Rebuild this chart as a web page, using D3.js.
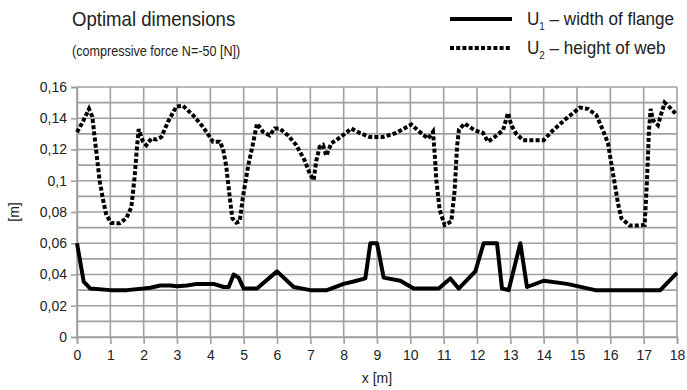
<!DOCTYPE html>
<html>
<head>
<meta charset="utf-8">
<script src="https://cdn.jsdelivr.net/npm/d3@7"></script>
<style>
  body { margin: 0; background: #fff; }
  text { font-family: "Liberation Sans", Arial, sans-serif; fill: #222; }
</style>
</head>
<body>
<div id="chart"></div>
<script>
// x positions [m] and values [m] for each series
const u1X = [0, 0.2, 0.4, 1.0, 1.5, 2.0, 2.2, 2.5, 2.8, 3.0, 3.3, 3.6, 4.1, 4.4, 4.55, 4.7, 4.85, 5.0, 5.4, 6.0,
  6.5, 7.0, 7.5, 8.0, 8.3, 8.65, 8.8, 9.0, 9.2, 9.7, 10.1, 10.85, 11.2, 11.45, 11.95, 12.2, 12.6, 12.75, 12.95,
  13.3, 13.5, 14.0, 14.7, 15.55, 17.5, 18.0];
const u1Y = [0.060, 0.0355, 0.031, 0.030, 0.030, 0.031, 0.0315, 0.033, 0.033, 0.0325, 0.033, 0.034, 0.034, 0.032,
  0.032, 0.040, 0.038, 0.031, 0.031, 0.042, 0.032, 0.030, 0.030, 0.034, 0.0355, 0.0375, 0.060, 0.060, 0.038,
  0.036, 0.031, 0.031, 0.0375, 0.031, 0.042, 0.060, 0.060, 0.031, 0.030, 0.060, 0.032, 0.036, 0.034, 0.030,
  0.030, 0.041];

const u2X = [0, 0.18, 0.36, 0.46, 0.56, 0.68, 0.78, 0.88, 1.03, 1.28, 1.48, 1.63, 1.73, 1.8, 1.85, 1.98, 2.08,
  2.23, 2.38, 2.53, 2.73, 2.98, 3.18, 3.48, 3.78, 4.08, 4.28, 4.38, 4.48, 4.58, 4.66, 4.78, 4.88, 4.98, 5.13,
  5.28, 5.4, 5.58, 5.78, 5.93, 6.08, 6.33, 6.58, 6.83, 6.98, 7.1, 7.18, 7.28, 7.38, 7.48, 7.63, 7.78, 8.03,
  8.23, 8.48, 8.78, 9.18, 9.58, 10.03, 10.28, 10.53, 10.68, 10.73, 10.78, 10.88, 11.03, 11.23, 11.33, 11.4,
  11.46, 11.63, 11.93, 12.18, 12.33, 12.53, 12.78, 12.93, 13.03, 13.18, 13.38, 14.0, 14.28, 14.68, 15.08,
  15.33, 15.58, 15.78, 15.93, 16.03, 16.13, 16.23, 16.33, 16.58, 16.83, 17.03, 17.1, 17.16, 17.21, 17.28,
  17.43, 17.53, 17.63, 17.78, 17.98];
const u2Y = [0.131, 0.138, 0.146, 0.141, 0.122, 0.100, 0.088, 0.078, 0.073, 0.0728, 0.076, 0.083, 0.1026,
  0.1217, 0.133, 0.125, 0.1228, 0.127, 0.1264, 0.128, 0.1377, 0.1475, 0.148, 0.142, 0.1345, 0.125, 0.125,
  0.1206, 0.109, 0.0898, 0.076, 0.0732, 0.074, 0.0898, 0.109, 0.1238, 0.1366, 0.1313, 0.129, 0.1334, 0.1334,
  0.129, 0.1228, 0.113, 0.1047, 0.1004, 0.113, 0.1217, 0.1228, 0.116, 0.124, 0.126, 0.130, 0.1334, 0.1306,
  0.128, 0.128, 0.1306, 0.136, 0.1313, 0.127, 0.1313, 0.1175, 0.1004, 0.0813, 0.0717, 0.074, 0.094, 0.1217,
  0.1328, 0.1366, 0.1323, 0.1306, 0.125, 0.128, 0.1323, 0.1434, 0.1355, 0.130, 0.126, 0.126, 0.1323, 0.1398,
  0.1468, 0.146, 0.142, 0.1323, 0.124, 0.111, 0.0983, 0.0855, 0.076, 0.0713, 0.0713, 0.0717, 0.1004, 0.1323,
  0.146, 0.1387, 0.1355, 0.143, 0.150, 0.147, 0.1425];

const yTicks = [0, 0.02, 0.04, 0.06, 0.08, 0.1, 0.12, 0.14, 0.16];
const xTicks = d3.range(0, 19);
const legendLabels = [
  { sub: '1', rest: ' \u2013 width of flange', dash: null },
  { sub: '2', rest: ' \u2013 height of web', dash: '4,2.2' }
];

const W = 687, H = 390;
const margin = { left: 77, right: 10, top: 87, bottom: 53 };
const width = W - margin.left - margin.right;
const height = H - margin.top - margin.bottom;

const svg = d3.select('#chart').append('svg')
  .attr('width', W).attr('height', H);

const g = svg.append('g')
  .attr('transform', 'translate(' + margin.left + ',' + margin.top + ')');

const x = d3.scaleLinear().domain([0, 18]).range([0, width]);
const y = d3.scaleLinear().domain([0, 0.16]).range([height, 0]);

const gridColor = '#a0a0a0';

// horizontal grid every 0.01
g.append('g')
  .selectAll('line')
  .data(d3.range(0, 17).map(i => i / 100))
  .enter().append('line')
  .attr('x1', 0).attr('x2', width)
  .attr('y1', d => y(d)).attr('y2', d => y(d))
  .attr('stroke', gridColor).attr('stroke-width', 1.6);

// vertical grid every 1 m
g.append('g')
  .selectAll('line')
  .data(xTicks)
  .enter().append('line')
  .attr('x1', d => x(d)).attr('x2', d => x(d))
  .attr('y1', 0).attr('y2', height)
  .attr('stroke', gridColor).attr('stroke-width', 1.6);

// axes
const xAxis = g.append('g')
  .attr('transform', 'translate(0,' + height + ')')
  .call(d3.axisBottom(x).tickValues(xTicks).tickSize(7).tickPadding(6).tickFormat(d3.format('d')));
const yAxis = g.append('g')
  .call(d3.axisLeft(y).tickValues(yTicks).tickSize(6).tickPadding(4)
    .tickFormat(d => d === 0 ? '0' : String(d).replace('.', ',')));

[xAxis, yAxis].forEach(a => {
  a.select('.domain').attr('stroke', gridColor).attr('stroke-width', 1.6);
  a.selectAll('.tick line').attr('stroke', gridColor).attr('stroke-width', 1.6);
  a.selectAll('.tick text').attr('font-size', '14px').attr('fill', '#222')
    .attr('font-family', '"Liberation Sans", Arial, sans-serif');
});

// series
const line = d3.line().x(d => x(d[0])).y(d => y(d[1]));

g.append('path')
  .datum(u2X.map((v, i) => [v, u2Y[i]]))
  .attr('d', line)
  .attr('fill', 'none').attr('stroke', '#000').attr('stroke-width', 4)
  .attr('stroke-dasharray', '4,2.2');

g.append('path')
  .datum(u1X.map((v, i) => [v, u1Y[i]]))
  .attr('d', line)
  .attr('fill', 'none').attr('stroke', '#000').attr('stroke-width', 4)
  .attr('stroke-linejoin', 'round');

// axis labels
svg.append('text')
  .attr('x', margin.left + width / 2).attr('y', 383)
  .attr('text-anchor', 'middle').attr('font-size', '14px')
  .text('x [m]');

svg.append('text')
  .attr('transform', 'translate(19,' + (margin.top + height / 2) + ') rotate(-90)')
  .attr('text-anchor', 'middle').attr('font-size', '14px')
  .text('[m]');

// title (source font is a narrow face, squeeze horizontally)
svg.append('text')
  .attr('transform', 'translate(72,26) scale(0.93,1)')
  .attr('font-size', '20px')
  .text('Optimal dimensions');

svg.append('text')
  .attr('transform', 'translate(72,56) scale(0.84,1)')
  .attr('font-size', '15px')
  .text('(compressive force N=-50 [N])');

// legend
const leg = svg.append('g').attr('transform', 'translate(450,0)');
legendLabels.forEach((d, i) => {
  const ly = 19 + i * 29;
  leg.append('line')
    .attr('x1', 0).attr('x2', 62).attr('y1', ly).attr('y2', ly)
    .attr('stroke', '#000').attr('stroke-width', 4)
    .attr('stroke-dasharray', d.dash);
  const t = leg.append('text')
    .attr('transform', 'translate(77,' + (ly + 6) + ') scale(0.9,1)')
    .attr('font-size', '19px');
  t.append('tspan').text('U');
  t.append('tspan').attr('font-size', '11px').attr('dy', 5).text(d.sub);
  t.append('tspan').attr('dy', -5).text(d.rest);
});
</script>
</body>
</html>
